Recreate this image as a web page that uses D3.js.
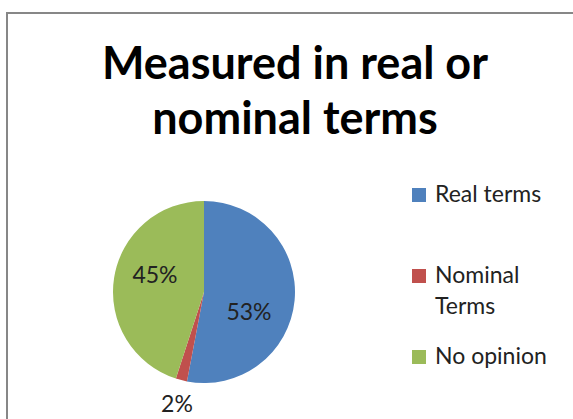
<!DOCTYPE html>
<html><head><meta charset="utf-8">
<script src="https://cdn.jsdelivr.net/npm/d3@7"></script>
<style>html,body{margin:0;padding:0;background:#fff;}svg{display:block;}</style>
</head><body>
<script>
const categories = ["Real terms", "Nominal Terms", "No opinion"];
const legendLines = [["Real terms"], ["Nominal", "Terms"], ["No opinion"]];
const values = [53, 2, 45];
const labels = ["53%", "2%", "45%"];
const colors = ["#4f81bd", "#c0504d", "#9bbb59"];
const titleLines = ["Measured in real or", "nominal terms"];

const W = 573, H = 419;
const svg = d3.select("body").append("svg").attr("width", W).attr("height", H);
svg.append("rect").attr("x", 7).attr("y", 13).attr("width", W + 10).attr("height", H + 10)
  .attr("fill", "#fff").attr("stroke", "#878787").attr("stroke-width", 2);

const font = "Lato, 'Open Sans', sans-serif";
svg.append("g").selectAll("text").data(titleLines).join("text")
  .attr("x", 295).attr("y", (d, i) => 79 + i * 55)
  .attr("text-anchor", "middle").attr("font-family", font).attr("font-weight", "bold")
  .attr("font-size", 45).attr("fill", "#000").text(d => d);

const cx = 204, cy = 292, r = 91;
const pie = d3.pie().sort(null).value(d => d)(values);
const arc = d3.arc().innerRadius(0).outerRadius(r);
const g = svg.append("g").attr("transform", `translate(${cx},${cy})`);
g.selectAll("path").data(pie).join("path").attr("d", arc).attr("fill", (d, i) => colors[i]);

const labelPos = [[45, 28], [-27, 120], [-49, -9]];
g.selectAll("text").data(pie).join("text")
  .attr("x", (d, i) => labelPos[i][0]).attr("y", (d, i) => labelPos[i][1])
  .attr("text-anchor", "middle").attr("font-family", font).attr("font-size", 23)
  .attr("fill", "#222").text((d, i) => labels[i]);

const legY = [195, 276, 357];
const lg = svg.append("g");
categories.forEach((c, i) => {
  lg.append("rect").attr("x", 412).attr("y", legY[i] - 7).attr("width", 14).attr("height", 14).attr("fill", colors[i]);
  legendLines[i].forEach((t, j) => {
    lg.append("text").attr("x", 435).attr("y", legY[i] + 7 + j * 31)
      .attr("font-family", font).attr("font-size", 23).attr("fill", "#222").text(t);
  });
});
</script>
</body></html>
